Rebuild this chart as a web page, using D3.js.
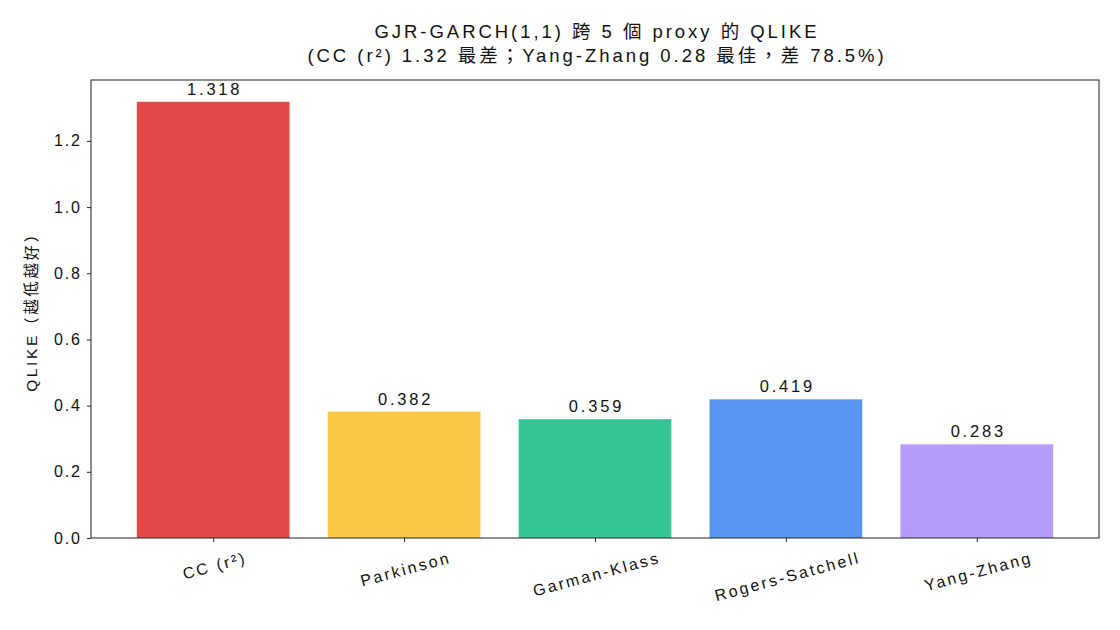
<!DOCTYPE html>
<html><head><meta charset="utf-8">
<script src="https://cdn.jsdelivr.net/npm/d3@7"></script>
<style>
body{margin:0;background:#fff;}
svg{display:block;font-family:"Liberation Sans","Noto Sans CJK TC",sans-serif;}
</style></head>
<body>
<svg id="c" width="1120" height="630"></svg>
<script>
const categories = ["CC (r²)", "Parkinson", "Garman-Klass", "Rogers-Satchell", "Yang-Zhang"];
const values = [1.318, 0.382, 0.359, 0.419, 0.283];
const valueLabels = ["1.318", "0.382", "0.359", "0.419", "0.283"];
const colors = ["#e24848", "#f9c846", "#36c595", "#5a94f3", "#b59cf9"];
const yTicks = [0.0, 0.2, 0.4, 0.6, 0.8, 1.0, 1.2];
const titleLines = ["GJR-GARCH(1,1) 跨 5 個 proxy 的 QLIKE", "(CC (r²) 1.32 最差；Yang-Zhang 0.28 最佳，差 78.5%)"];
const yLabel = "QLIKE（越低越好）";

const svg = d3.select("#c");
const L = 91, R = 1099, T = 80, B = 538;
const n = categories.length, bw = 0.8;
const x = d3.scaleLinear().domain([-bw/2 - 0.05*(n-1+bw), n-1+bw/2 + 0.05*(n-1+bw)]).range([L, R]);
const ymax = d3.max(values) * 1.05;
const y = d3.scaleLinear().domain([0, ymax]).range([B, T]);
const LS = "0.17em";

// bars
svg.append("g").selectAll("rect").data(values).join("rect")
  .attr("x", (d,i) => x(i - bw/2)).attr("width", (d,i) => x(i + bw/2) - x(i - bw/2))
  .attr("y", d => y(d)).attr("height", d => y(0) - y(d))
  .attr("fill", (d,i) => colors[i]);

// value labels
svg.append("g").selectAll("text").data(values).join("text")
  .attr("x", (d,i) => x(i) + 1.5).attr("y", d => y(d) - 7)
  .attr("text-anchor", "middle").attr("font-size", 16.5).attr("fill", "#111")
  .attr("letter-spacing", LS)
  .text((d,i) => valueLabels[i]);

// y axis
const yAxis = d3.axisLeft(y).tickValues(yTicks).tickFormat(d3.format(".1f")).tickSizeOuter(0).tickSize(4).tickPadding(7);
const gy = svg.append("g").attr("transform", `translate(${L},0)`).call(yAxis);
gy.select(".domain").remove();
gy.selectAll("line").attr("stroke", "#333").attr("stroke-width", 1.1);
gy.selectAll("text").attr("font-size", 16).attr("fill", "#111")
  .attr("font-family", "Liberation Sans, Noto Sans CJK TC").attr("letter-spacing", "0.12em").attr("dx", "0.12em");

// x axis
const xAxis = d3.axisBottom(x).tickValues(d3.range(n)).tickFormat(() => "").tickSize(4).tickSizeOuter(0);
const gx = svg.append("g").attr("transform", `translate(0,${B})`).call(xAxis);
gx.select(".domain").remove();
gx.selectAll("line").attr("stroke", "#333").attr("stroke-width", 1.1);

// rotated x labels
const ang = 15 * Math.PI / 180;
categories.forEach((c, i) => {
  const t = svg.append("text").attr("font-size", 16).attr("fill", "#111")
    .attr("letter-spacing", "0.15em")
    .attr("text-anchor", "middle").attr("dominant-baseline", "central").text(c);
  const bb = t.node().getBBox();
  const h = bb.width * Math.sin(ang) + bb.height * Math.cos(ang);
  const cy = B + 11 + h / 2;
  t.attr("transform", `translate(${x(i) + 1.5},${cy}) rotate(-15)`);
});

// frame
svg.append("rect").attr("x", L).attr("y", T).attr("width", R - L).attr("height", B - T)
  .attr("fill", "none").attr("stroke", "#333").attr("stroke-width", 1.1);

// y label
svg.append("text").attr("transform", `translate(37,${(T+B)/2 - 1}) rotate(-90)`)
  .attr("text-anchor", "middle").attr("font-size", 15.5).attr("fill", "#111")
  .attr("letter-spacing", LS).text(yLabel);

// title
titleLines.forEach((s, k) => {
  svg.append("text").attr("x", (L + R) / 2 + 2).attr("y", 38 + k * 24)
    .attr("text-anchor", "middle").attr("font-size", 18.5).attr("fill", "#111")
    .attr("letter-spacing", "0.16em").text(s);
});
</script>
</body></html>
